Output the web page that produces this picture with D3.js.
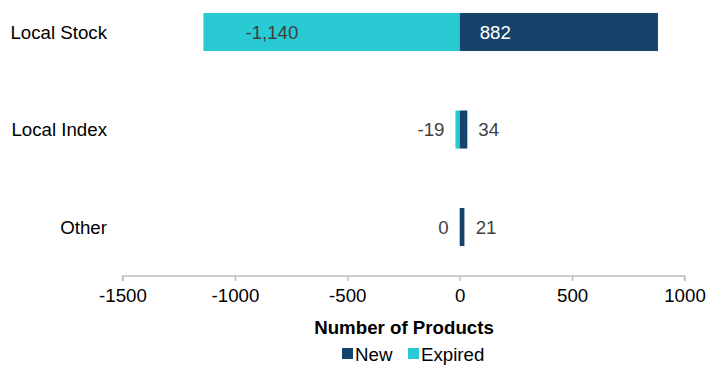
<!DOCTYPE html>
<html><head><meta charset="utf-8">
<script src="https://cdn.jsdelivr.net/npm/d3@7/dist/d3.min.js"></script>
<style>body{margin:0;background:#fff}svg{display:block;font-family:"Liberation Sans",Arial,sans-serif}</style>
</head><body><svg id="c" width="707" height="365"></svg>
<script>
const categories = ["Local Stock", "Local Index", "Other"];
const newValues = [882, 34, 21];
const expiredValues = [-1140, -19, 0];
const tickValues = [-1500, -1000, -500, 0, 500, 1000];
const seriesNames = ["New", "Expired"];
const colors = {New: "#16436B", Expired: "#29CAD4"};

const svg = d3.select("#c");
const x = d3.scaleLinear().domain([-1500, 1000]).range([122.5, 684.5]);
const y = d3.scaleBand().domain(categories).range([-16.25, 275.3]).paddingInner(0.61).paddingOuter(0.3);
const fs = 18.7;
const fmt = v => d3.format(",")(v).replace("\u2212", "-");

// bars
categories.forEach((c, i) => {
  const e = expiredValues[i], n = newValues[i];
  svg.append("rect").attr("x", x(e)).attr("y", y(c)).attr("width", x(0) - x(e)).attr("height", y.bandwidth())
    .attr("fill", colors.Expired);
  svg.append("rect").attr("x", x(0)).attr("y", y(c)).attr("width", x(n) - x(0)).attr("height", y.bandwidth())
    .attr("fill", colors.New);
});

// labels
categories.forEach((c, i) => {
  const e = expiredValues[i], n = newValues[i];
  const cy = y(c) + y.bandwidth() / 2;
  const big = x(0) - x(e) > 100;
  if (big) {
    svg.append("text").attr("x", x(e) + 42).attr("y", cy).attr("dy", "0.35em").attr("font-size", fs)
      .attr("fill", "#404040").text(fmt(e));
  } else {
    svg.append("text").attr("x", Math.min(x(e), x(0)) - 11).attr("y", cy).attr("dy", "0.35em").attr("font-size", fs)
      .attr("text-anchor", "end").attr("fill", "#404040").text(fmt(e));
  }
  if (x(n) - x(0) > 100) {
    svg.append("text").attr("x", x(0) + 20).attr("y", cy).attr("dy", "0.35em").attr("font-size", fs)
      .attr("fill", "#ffffff").text(fmt(n));
  } else {
    svg.append("text").attr("x", Math.max(x(n), x(0) + 5) + 11).attr("y", cy).attr("dy", "0.35em").attr("font-size", fs)
      .attr("fill", "#404040").text(fmt(n));
  }
  svg.append("text").attr("x", 107).attr("y", cy).attr("dy", "0.35em").attr("font-size", fs)
    .attr("text-anchor", "end").attr("fill", "#000").text(c);
});

// axis
const ax = svg.append("g").attr("transform", "translate(0,276)")
  .call(d3.axisBottom(x).tickValues(tickValues).tickSize(5).tickPadding(8).tickFormat(d => String(d)));
ax.select(".domain").attr("stroke", "#BFBFBF").attr("stroke-width", 1.5).attr("d", `M${x(-1500)},5V0H${x(1000)}V5`);
ax.selectAll(".tick line").attr("stroke", "#BFBFBF").attr("stroke-width", 1.5);
ax.selectAll(".tick text").attr("font-size", fs).attr("fill", "#000").attr("font-family", "Liberation Sans, Arial, sans-serif");

svg.append("text").attr("x", 404).attr("y", 327).attr("dy", "0.35em").attr("text-anchor", "middle")
  .attr("font-size", fs).attr("font-weight", "bold").attr("fill", "#000").text("Number of Products");

// legend
const lg = svg.append("g");
const legendX = [342, 408];
seriesNames.forEach((s, i) => {
  lg.append("rect").attr("x", legendX[i]).attr("y", 348).attr("width", 11).attr("height", 11).attr("fill", colors[s]);
  lg.append("text").attr("x", legendX[i] + 13).attr("y", 354).attr("dy", "0.35em").attr("font-size", fs)
    .attr("fill", "#000").text(s);
});
</script></body></html>
